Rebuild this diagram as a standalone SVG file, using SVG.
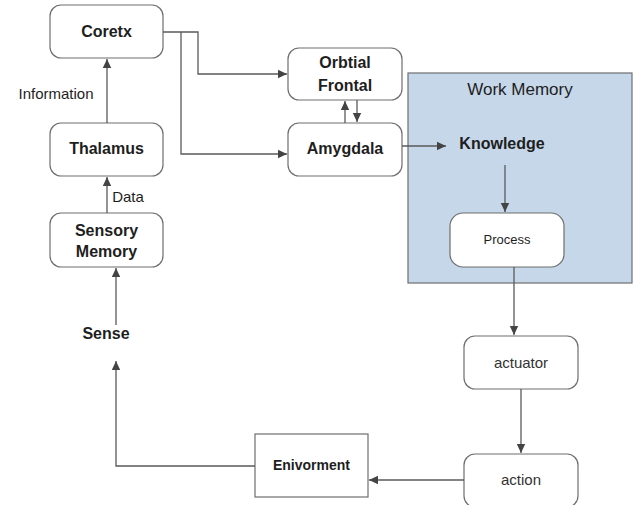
<svg xmlns="http://www.w3.org/2000/svg" width="633" height="505" viewBox="0 0 633 505">
<style>
.n{fill:#fff;stroke:#6e6e6e;stroke-width:1.2}
.c{fill:none;stroke:#5a5a5a;stroke-width:1.3}
text{font-family:"Liberation Sans",Arial,sans-serif;fill:#1e1e1e;text-anchor:middle}
.b{font-weight:bold;font-size:16px}
.r{font-size:15px;fill:#333}
</style>
<defs>
<marker id="ah" markerWidth="10" markerHeight="10" refX="9" refY="5" orient="auto" markerUnits="userSpaceOnUse">
<path d="M0,0.8 L9,5 L0,9.2 Z" fill="#444"/>
</marker>
</defs>
<rect x="0" y="0" width="633" height="505" fill="#fff"/>
<g id="workmemory">
<rect x="408" y="73" width="224" height="210" fill="#c5d7e9" stroke="#6e6e6e" stroke-width="1.2"/>
<text x="520" y="95" style="font-size:17px" fill="#333">Work Memory</text>
</g>
<g id="knowledge"><text class="b" x="502" y="149">Knowledge</text></g>
<g id="coretx"><rect class="n" x="50" y="5" width="113" height="53" rx="11"/><text class="b" x="106.5" y="37">Coretx</text></g>
<g id="thalamus"><rect class="n" x="50" y="123" width="113" height="53" rx="11"/><text class="b" x="106.5" y="154">Thalamus</text></g>
<g id="sensory"><rect class="n" x="50" y="213" width="113" height="54" rx="11"/><text class="b" x="106.5" y="236">Sensory</text><text class="b" x="106.5" y="257">Memory</text></g>
<g id="orbtial"><rect class="n" x="288" y="48" width="114" height="52" rx="11"/><text class="b" x="345" y="68">Orbtial</text><text class="b" x="345" y="91">Frontal</text></g>
<g id="amygdala"><rect class="n" x="288" y="123" width="114" height="53" rx="11"/><text class="b" x="345" y="154">Amygdala</text></g>
<g id="process"><rect class="n" x="450" y="213" width="114" height="54" rx="13"/><text x="507" y="244" style="font-size:13px" fill="#333">Process</text></g>
<g id="actuator"><rect class="n" x="464" y="336" width="114" height="53" rx="11"/><text class="r" x="521" y="368">actuator</text></g>
<g id="action"><rect class="n" x="464" y="454" width="114" height="53" rx="11"/><text class="r" x="521" y="485">action</text></g>
<g id="enivorment"><rect class="n" x="255" y="434" width="113" height="63"/><text class="b" x="311.5" y="470" style="font-size:14px">Enivorment</text></g>
<g id="sense"><text class="b" x="106" y="339">Sense</text></g>
<g id="labels">
<text x="56" y="99" style="font-size:15px" fill="#333">Information</text>
<text x="128" y="202" style="font-size:15px" fill="#333">Data</text>
</g>
<g id="connectors">
<path class="c" d="M107,123 V59" marker-end="url(#ah)"/>
<path class="c" d="M107,213 V177" marker-end="url(#ah)"/>
<path class="c" d="M116,325 V268" marker-end="url(#ah)"/>
<path class="c" d="M163,32 H198 V74 H287" marker-end="url(#ah)"/>
<path class="c" d="M181,32 V154 H287" marker-end="url(#ah)"/>
<path class="c" d="M345,123 V101" marker-end="url(#ah)"/>
<path class="c" d="M357,100 V122" marker-end="url(#ah)"/>
<path class="c" d="M402,146 H446" marker-end="url(#ah)"/>
<path class="c" d="M505,165 V212" marker-end="url(#ah)"/>
<path class="c" d="M514,267 V335" marker-end="url(#ah)"/>
<path class="c" d="M521,389 V453" marker-end="url(#ah)"/>
<path class="c" d="M464,480 H369" marker-end="url(#ah)"/>
<path class="c" d="M255,466 H116 V361" marker-end="url(#ah)"/>
</g>
</svg>
